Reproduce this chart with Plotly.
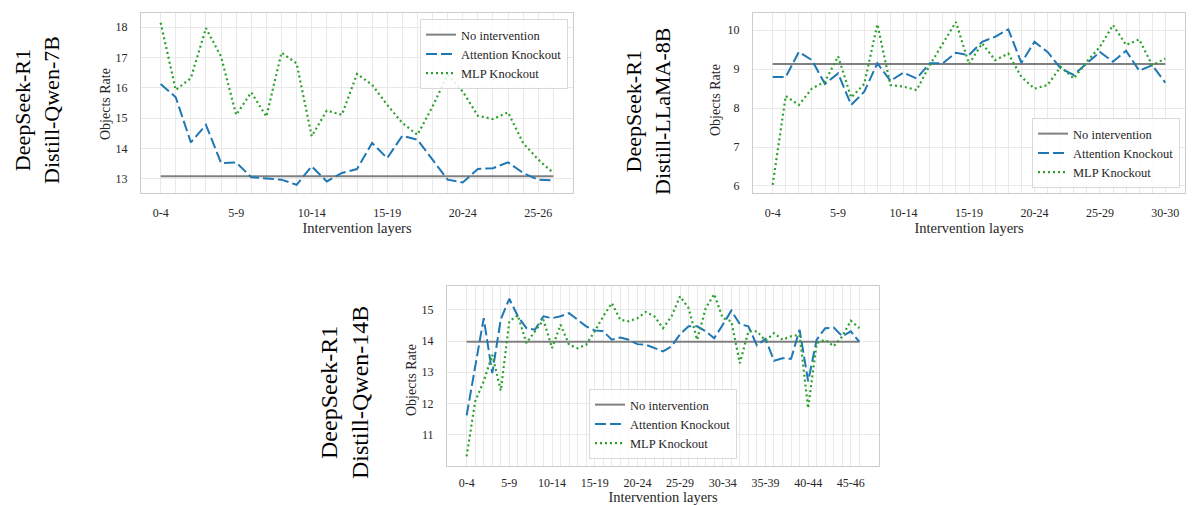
import plotly.graph_objects as go

# ---------------- data ----------------
max_layer_7b = 26
max_layer_8b = 30
max_layer_14b = 46

cats_7b = [f"{i}-{min(i + 4, max_layer_7b)}" for i in range(max_layer_7b + 1)]
cats_8b = [f"{i}-{min(i + 4, max_layer_8b)}" for i in range(max_layer_8b + 1)]
cats_14b = [f"{i}-{min(i + 4, max_layer_14b)}" for i in range(max_layer_14b + 1)]

baseline_7b = 13.08
attn_7b = [16.13, 15.69, 14.20, 14.78, 13.52, 13.54, 13.05, 13.02, 12.97, 12.80,
           13.41, 12.91, 13.19, 13.32, 14.18, 13.68, 14.42, 14.29, 13.63, 12.97,
           12.88, 13.32, 13.35, 13.54, 13.19, 12.97, 12.95]
mlp_7b = [18.15, 15.93, 16.32, 17.97, 17.03, 15.11, 15.85, 15.05, 17.16, 16.81,
          14.40, 15.25, 15.11, 16.46, 16.10, 15.44, 14.84, 14.45, 15.38, 16.43,
          15.88, 15.08, 14.97, 15.19, 14.18, 13.63, 13.19]

baseline_8b = 9.13
attn_8b = [8.80, 8.80, 9.44, 9.23, 8.62, 8.89, 8.08, 8.42, 9.15, 8.70,
           8.91, 8.76, 9.15, 9.15, 9.42, 9.36, 9.70, 9.83, 10.02, 9.16,
           9.70, 9.44, 9.02, 8.85, 9.15, 9.44, 9.19, 9.47, 8.96, 9.10, 8.65]
mlp_8b = [6.03, 8.31, 8.08, 8.50, 8.68, 9.33, 8.27, 8.62, 10.15, 8.59,
          8.55, 8.46, 9.10, 9.66, 10.21, 9.13, 9.66, 9.23, 9.40, 8.80,
          8.50, 8.59, 9.06, 8.76, 9.19, 9.57, 10.13, 9.62, 9.76, 9.10, 9.27]

baseline_14b = 13.98
attn_14b = [11.62, 13.20, 14.73, 12.97, 14.70, 15.35, 14.79, 14.41, 14.36, 14.79,
            14.73, 14.79, 14.89, 14.68, 14.47, 14.34, 14.31, 14.04, 14.11, 14.04,
            13.90, 13.88, 13.77, 13.67, 13.83, 14.22, 14.47, 14.47, 14.31, 14.09,
            14.52, 14.97, 14.54, 14.47, 13.86, 14.07, 13.37, 13.45, 13.43, 14.36,
            12.71, 14.04, 14.41, 14.43, 14.15, 14.31, 13.97]
mlp_14b = [10.31, 12.07, 12.71, 13.56, 12.41, 14.63, 14.82, 13.93, 14.31, 14.68,
           13.77, 14.52, 13.88, 13.77, 13.88, 14.31, 14.79, 15.21, 14.68, 14.63,
           14.73, 14.93, 14.79, 14.41, 14.79, 15.43, 15.05, 14.04, 15.05, 15.50,
           14.73, 14.63, 13.29, 14.31, 14.31, 14.01, 14.25, 14.04, 14.15, 14.20,
           11.85, 13.93, 14.04, 13.83, 14.15, 14.65, 14.41]

row_labels = ["DeepSeek-R1<br>Distill-Qwen-7B",
              "DeepSeek-R1<br>Distill-LLaMA-8B",
              "DeepSeek-R1<br>Distill-Qwen-14B"]
series_names = ["No intervention", "Attention Knockout", "MLP Knockout"]
y_title = "Objects Rate"
x_title = "Intervention layers"
yticks_7b = [13, 14, 15, 16, 17, 18]
yticks_8b = [6, 7, 8, 9, 10]
yticks_14b = [11, 12, 13, 14, 15]

# ---------------- styling ----------------
W, H = 1192, 505
FONT = "Liberation Serif"
GRAY, BLUE, GREEN = "#808080", "#1f77b4", "#2ca02c"
GRID = "#e9e9e9"
SPINE = "#cccccc"
TXT = "#262626"


def px_x(v):
    return v / W


def px_y(v):
    return 1 - v / H


fig = go.Figure()

panels = [
    dict(cats=cats_7b, base=baseline_7b, attn=attn_7b, mlp=mlp_7b, yticks=yticks_7b,
         xd=[px_x(141), px_x(573)], yd=[px_y(193), px_y(13)], legend="legend",
         yr=[12.53, 18.47], xstand=8, xtstand=3, ytitle_xy=(106, 104)),
    dict(cats=cats_8b, base=baseline_8b, attn=attn_8b, mlp=mlp_8b, yticks=yticks_8b,
         xd=[px_x(753), px_x(1185)], yd=[px_y(193), px_y(13)], legend="legend2",
         yr=[5.82, 10.44], xstand=8, xtstand=3, ytitle_xy=(716, 100)),
    dict(cats=cats_14b, base=baseline_14b, attn=attn_14b, mlp=mlp_14b, yticks=yticks_14b,
         xd=[px_x(447), px_x(879)], yd=[px_y(466), px_y(286)], legend="legend3",
         yr=[10.0, 15.76], xstand=5, xtstand=0, ytitle_xy=(411, 380)),
]

for k, p in enumerate(panels):
    sfx = "" if k == 0 else str(k + 1)
    xa, ya = "x" + sfx, "y" + sfx
    n = len(p["cats"])
    fig.add_trace(go.Scatter(x=p["cats"], y=[p["base"]] * n, mode="lines",
                             name=series_names[0], line=dict(color=GRAY, width=2),
                             xaxis=xa, yaxis=ya, legend=p["legend"]))
    fig.add_trace(go.Scatter(x=p["cats"], y=p["attn"], mode="lines",
                             name=series_names[1],
                             line=dict(color=BLUE, width=2, dash="11px,4px"),
                             xaxis=xa, yaxis=ya, legend=p["legend"]))
    fig.add_trace(go.Scatter(x=p["cats"], y=p["mlp"], mode="lines",
                             name=series_names[2],
                             line=dict(color=GREEN, width=2.2, dash="2px,3px"),
                             xaxis=xa, yaxis=ya, legend=p["legend"]))

    ticktext = [c if i % 5 == 0 else "" for i, c in enumerate(p["cats"])]
    fig.update_layout(**{
        "xaxis" + sfx: dict(
            domain=p["xd"], anchor=ya, type="category",
            categoryorder="array", categoryarray=p["cats"],
            range=[-0.05 * (n - 1), (n - 1) * 1.05],
            tickmode="array", tickvals=p["cats"], ticktext=ticktext,
            showgrid=True, gridcolor=GRID, gridwidth=1,
            showline=True, linecolor=SPINE, linewidth=1.3, mirror=True,
            ticks="", ticklabelstandoff=p["xstand"],
            tickfont=dict(family=FONT, size=12, color=TXT),
            title=dict(text=x_title, standoff=p["xtstand"],
                       font=dict(family=FONT, size=14.5, color=TXT)),
            zeroline=False,
        ),
        "yaxis" + sfx: dict(
            domain=p["yd"], anchor=xa, range=p["yr"],
            tickmode="array", tickvals=p["yticks"],
            showgrid=True, gridcolor=GRID, gridwidth=1,
            showline=True, linecolor=SPINE, linewidth=1.3, mirror=True,
            ticks="", ticklabelstandoff=10,
            tickfont=dict(family=FONT, size=12, color=TXT),
            zeroline=False,
        ),
    })
    fig.add_annotation(text=y_title, x=px_x(p["ytitle_xy"][0]), y=px_y(p["ytitle_xy"][1]),
                       xref="paper", yref="paper", textangle=-90, showarrow=False,
                       xanchor="center", yanchor="middle",
                       font=dict(family=FONT, size=14, color=TXT))

legend_common = dict(
    font=dict(family=FONT, size=12.5, color=TXT),
    bgcolor="rgba(255,255,255,0.85)", bordercolor="#d9d9d9", borderwidth=1,
    tracegroupgap=0, itemwidth=30,
)
fig.update_layout(
    legend=dict(x=px_x(568), y=px_y(19), xanchor="right", yanchor="top", **legend_common),
    legend2=dict(x=px_x(1180), y=px_y(188), xanchor="right", yanchor="bottom", **legend_common),
    legend3=dict(x=px_x(663), y=px_y(459), xanchor="center", yanchor="bottom", **legend_common),
)

annots = [
    dict(text=row_labels[0], x=px_x(37), y=px_y(110), size=22),
    dict(text=row_labels[1], x=px_x(648), y=px_y(112), size=22),
    dict(text=row_labels[2], x=px_x(344), y=px_y(393), size=24),
]
for a in annots:
    fig.add_annotation(text=a["text"], x=a["x"], y=a["y"], xref="paper", yref="paper",
                       textangle=-90, showarrow=False, xanchor="center", yanchor="middle",
                       font=dict(family=FONT, size=a["size"], color="black"))

fig.update_layout(
    width=W, height=H, margin=dict(l=0, r=0, t=0, b=0),
    paper_bgcolor="white", plot_bgcolor="white", showlegend=True,
)

fig.write_html("out.html")
